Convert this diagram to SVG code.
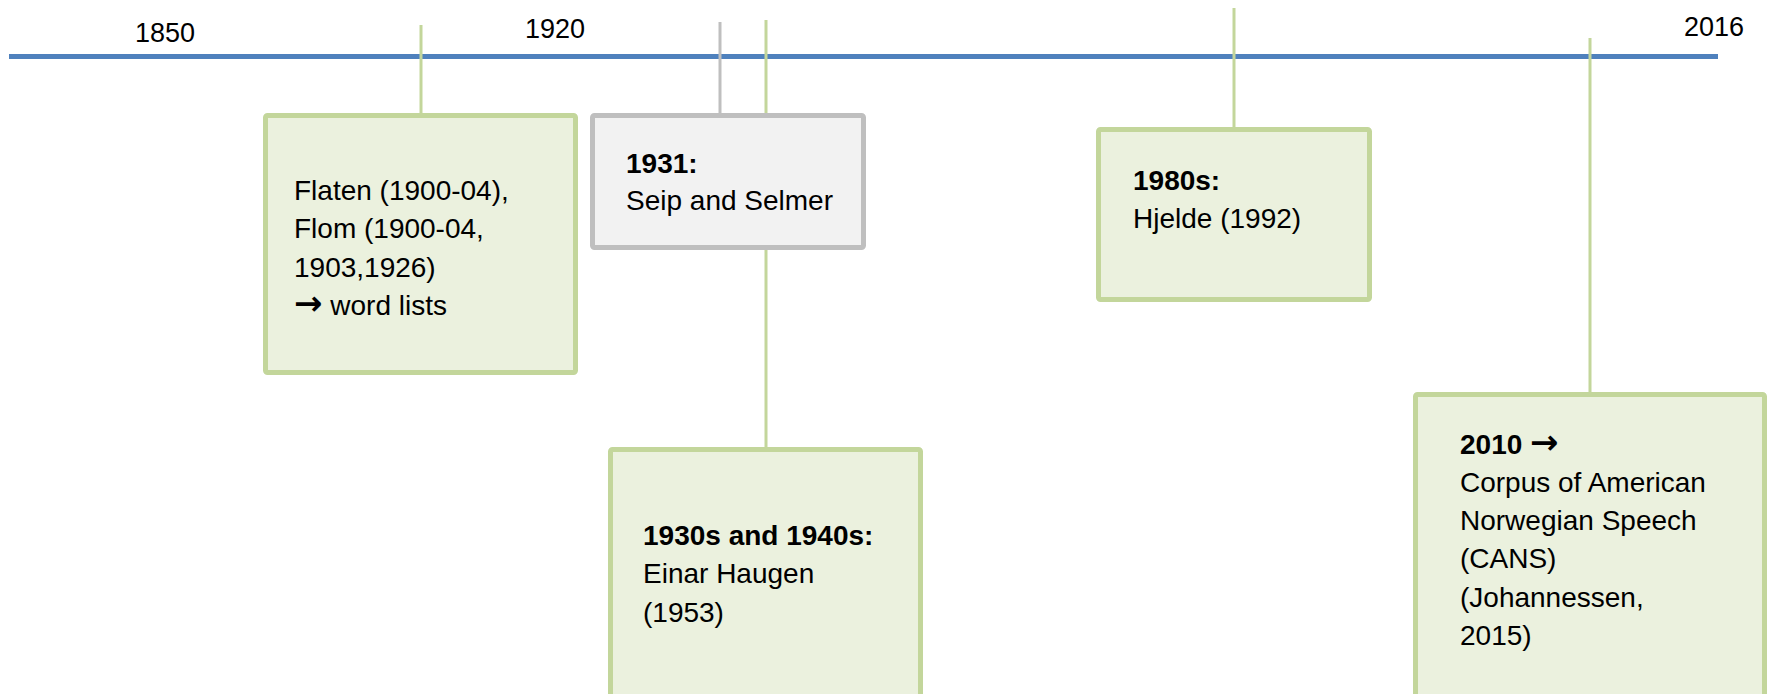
<svg xmlns="http://www.w3.org/2000/svg" width="1771" height="694" viewBox="0 0 1771 694">
<style>
.t{font-family:"Liberation Sans",Arial,sans-serif;font-size:28px;fill:#000}
.b{font-weight:bold}
.ar{font-family:"DejaVu Sans",sans-serif;font-weight:bold;font-size:34px}
.yr{font-family:"Liberation Sans",Arial,sans-serif;font-size:27px;fill:#000}
.g{fill:#ebf1de;stroke:#c3d69b;stroke-width:5}
.gr{fill:#f2f2f2;stroke:#bfbfbf;stroke-width:5}
.tk{stroke:#c3d69b;stroke-width:3;fill:none}
.tkg{stroke:#bfbfbf;stroke-width:3;fill:none}
</style>
<rect width="1771" height="694" fill="#fff"/>
<g id="axis">
<line x1="9" y1="56.5" x2="1718" y2="56.5" stroke="#4f81bd" stroke-width="5"/>
<text class="yr" x="135" y="42">1850</text>
<text class="yr" x="525" y="38">1920</text>
<text class="yr" x="1684" y="36">2016</text>
</g>
<g id="connectors">
<line class="tk" x1="421" y1="25" x2="421" y2="114"/>
<line class="tkg" x1="720" y1="22" x2="720" y2="114"/>
<line class="tk" x1="766" y1="20" x2="766" y2="448"/>
<line class="tk" x1="1234" y1="8" x2="1234" y2="128"/>
<line class="tk" x1="1590" y1="38" x2="1590" y2="393"/>
</g>
<g id="node-flaten">
<rect class="g" x="265.5" y="115.5" width="310" height="257" rx="2"/>
<text class="t" x="294" y="200">Flaten (1900-04),</text>
<text class="t" x="294" y="238">Flom (1900-04,</text>
<text class="t" x="294" y="277">1903,1926)</text>
<text class="t" x="294" y="315"><tspan class="ar">→</tspan> word lists</text>
</g>
<g id="node-seip">
<rect class="gr" x="592.5" y="115.5" width="271" height="132" rx="2"/>
<text class="t b" x="626" y="173">1931:</text>
<text class="t" x="626" y="210">Seip and Selmer</text>
</g>
<g id="node-haugen">
<rect class="g" x="610.5" y="449.5" width="310" height="260" rx="2"/>
<text class="t b" x="643" y="545">1930s and 1940s:</text>
<text class="t" x="643" y="583">Einar Haugen</text>
<text class="t" x="643" y="622">(1953)</text>
</g>
<g id="node-hjelde">
<rect class="g" x="1098.5" y="129.5" width="271" height="170" rx="2"/>
<text class="t b" x="1133" y="190">1980s:</text>
<text class="t" x="1133" y="228">Hjelde (1992)</text>
</g>
<g id="node-cans">
<rect class="g" x="1415.5" y="394.5" width="349" height="320" rx="2"/>
<text class="t b" x="1460" y="454">2010 <tspan class="ar">→</tspan></text>
<text class="t" x="1460" y="492">Corpus of American</text>
<text class="t" x="1460" y="530">Norwegian Speech</text>
<text class="t" x="1460" y="568">(CANS)</text>
<text class="t" x="1460" y="607">(Johannessen,</text>
<text class="t" x="1460" y="645">2015)</text>
</g>
</svg>
